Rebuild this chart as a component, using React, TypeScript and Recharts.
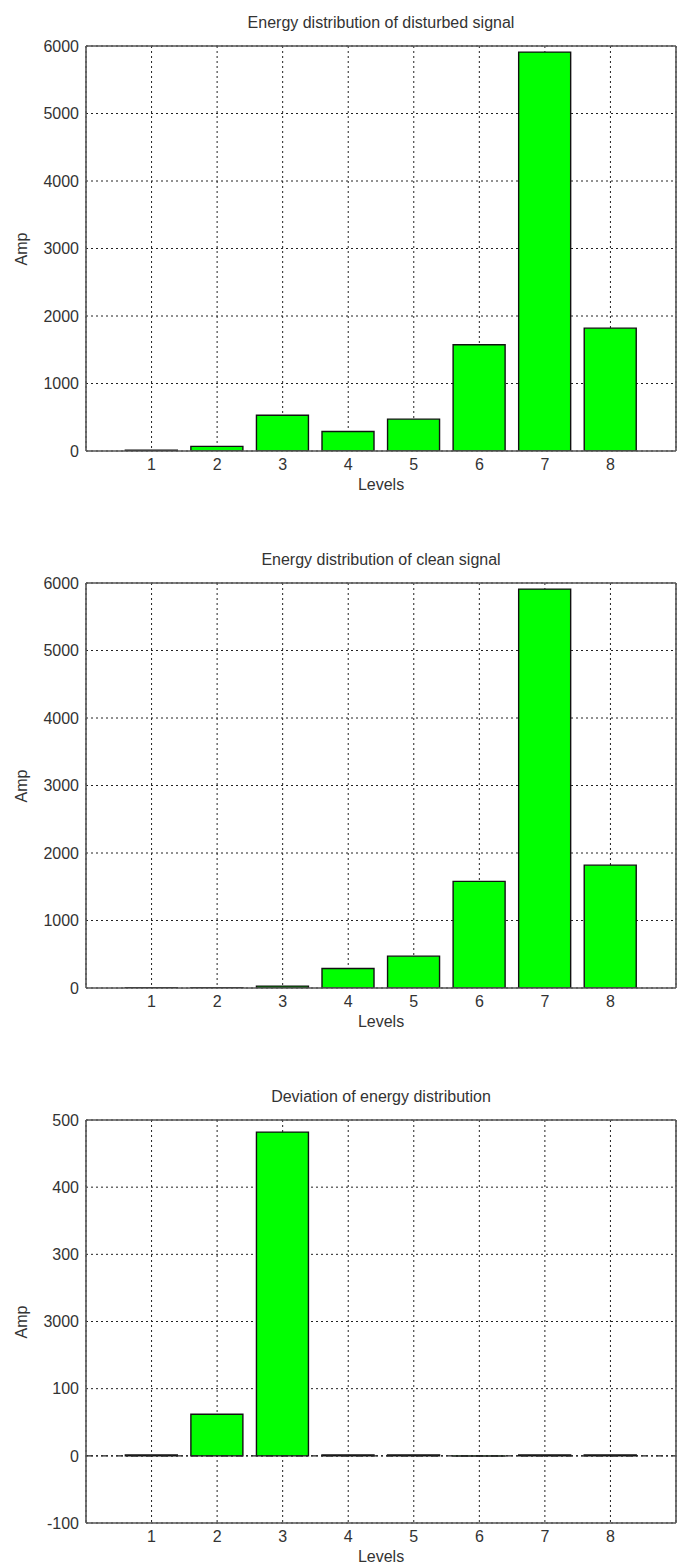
import React from "react";
import {
  BarChart,
  Bar,
  XAxis,
  YAxis,
  CartesianGrid,
  ReferenceLine,
} from "recharts";

const levels = [1, 2, 3, 4, 5, 6, 7, 8];
const disturbedEnergy = [12, 68, 530, 290, 472, 1575, 5910, 1820];
const cleanEnergy = [5, 5, 28, 290, 472, 1580, 5910, 1820];
const deviationEnergy = [1.2, 62, 482, 1.2, 1.2, -0.4, 1.2, 1.2];

const energyTicks = [0, 1000, 2000, 3000, 4000, 5000, 6000];
const energyTickLabels = ["0", "1000", "2000", "3000", "4000", "5000", "6000"];
const deviationTicks = [-100, 0, 100, 200, 300, 400, 500];
const deviationTickLabels = ["-100", "0", "100", "3000", "300", "400", "500"];

const FONT = "'Liberation Sans', Arial, Helvetica, sans-serif";
const TEXT = "#333";
const FRAME = "#555";

type PanelProps = {
  title: string;
  values: number[];
  ticks: number[];
  tickLabels: string[];
  plotTop: number;
  plotHeight: number;
  baseline?: boolean;
};

const TOP_MARGIN = 46;
const X_AXIS_H = 60;
const Y_AXIS_W = 86;
const PLOT_W = 590;
const CHART_W = 684;

function Panel({ title, values, ticks, tickLabels, plotTop, plotHeight, baseline }: PanelProps) {
  const data = levels.map((l, i) => ({ level: String(l), amp: values[i] }));
  const chartTop = plotTop - TOP_MARGIN;
  const chartH = TOP_MARGIN + plotHeight + X_AXIS_H;
  const band = PLOT_W / 9;
  const pad = band / 2;
  const domain: [number, number] = [ticks[0], ticks[ticks.length - 1]];
  const fmt = (v: number) => {
    const idx = ticks.indexOf(v);
    return idx >= 0 ? tickLabels[idx] : String(v);
  };
  const textStyle: React.CSSProperties = {
    position: "absolute",
    textAlign: "center",
    fontFamily: FONT,
    fontSize: 16,
    color: TEXT,
    lineHeight: "20px",
  };
  return (
    <div style={{ position: "absolute", left: 0, top: chartTop, width: CHART_W, height: chartH }}>
      <div style={{ ...textStyle, left: Y_AXIS_W, width: PLOT_W, top: TOP_MARGIN - 33 }}>{title}</div>
      <div style={{ ...textStyle, left: Y_AXIS_W, width: PLOT_W, top: TOP_MARGIN + plotHeight + 24 }}>
        Levels
      </div>
      <div
        style={{
          ...textStyle,
          left: 22 - 30,
          width: 60,
          top: TOP_MARGIN + plotHeight / 2 - 10,
          transform: "rotate(-90deg)",
        }}
      >
        Amp
      </div>
      <div style={{ position: "absolute", left: 0, top: 0 }}>
        <BarChart
          width={CHART_W}
          height={chartH}
          data={data}
          margin={{ top: TOP_MARGIN, right: 0, left: 0, bottom: 0 }}
          barCategoryGap="10%"
        >
          <CartesianGrid stroke="#222" strokeDasharray="2 3" strokeWidth={1} />
          <XAxis
            dataKey="level"
            height={X_AXIS_H}
            padding={{ left: pad, right: pad }}
            axisLine={{ stroke: FRAME, strokeWidth: 1.6 }}
            tickLine={false}
            tickSize={6}
            tickMargin={2}
            tick={{ fill: TEXT, fontSize: 16, fontFamily: FONT }}
            interval={0}
          />
          <YAxis
            type="number"
            domain={domain}
            ticks={ticks}
            width={Y_AXIS_W}
            interval={0}
            allowDataOverflow
            axisLine={{ stroke: FRAME, strokeWidth: 1.6 }}
            tickLine={false}
            tickSize={5}
            tickMargin={2}
            tickFormatter={fmt}
            tick={{ fill: TEXT, fontSize: 16, fontFamily: FONT }}
          />
          <YAxis
            yAxisId="right"
            orientation="right"
            type="number"
            domain={domain}
            ticks={ticks}
            width={CHART_W - Y_AXIS_W - PLOT_W}
            axisLine={{ stroke: FRAME, strokeWidth: 1.6 }}
            tick={false}
            tickLine={false}
          />
          <ReferenceLine y={domain[1]} stroke={FRAME} strokeWidth={1.6} />
          {baseline ? (
            <ReferenceLine y={0} stroke="#222" strokeWidth={1.2} strokeDasharray="7 3 2 3" />
          ) : null}
          <Bar
            dataKey="amp"
            fill="#00ff00"
            stroke="#111"
            strokeWidth={1.4}
            isAnimationActive={false}
          />
        </BarChart>
      </div>
    </div>
  );
}

export default function App() {
  return (
    <div
      style={{
        position: "absolute",
        left: 0,
        top: 0,
        width: 684,
        height: 1567,
        background: "#fff",
        overflow: "hidden",
      }}
    >
      <Panel
        title="Energy distribution of disturbed signal"
        values={disturbedEnergy}
        ticks={energyTicks}
        tickLabels={energyTickLabels}
        plotTop={46}
        plotHeight={405}
      />
      <Panel
        title="Energy distribution of clean signal"
        values={cleanEnergy}
        ticks={energyTicks}
        tickLabels={energyTickLabels}
        plotTop={583}
        plotHeight={405}
      />
      <Panel
        title="Deviation of energy distribution"
        values={deviationEnergy}
        ticks={deviationTicks}
        tickLabels={deviationTickLabels}
        plotTop={1120}
        plotHeight={403}
        baseline
      />
    </div>
  );
}
